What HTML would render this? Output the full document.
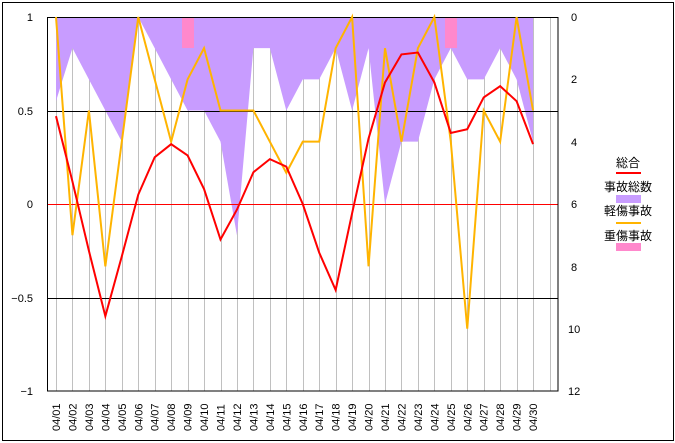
<!DOCTYPE html>
<html><head><meta charset="utf-8"><style>body{margin:0;background:#fff}svg{display:block}</style></head><body>
<svg width="675" height="443" xmlns="http://www.w3.org/2000/svg" font-family="Liberation Sans, Noto Sans CJK JP, sans-serif" font-size="11">
<rect x="2.5" y="2.5" width="671" height="438" fill="#fff" stroke="#000"/>
<g id="grid" stroke="#c0c0c0" stroke-width="1"></g>
<polygon id="area" fill="#c89cff"/>
<rect x="182" y="17" width="12" height="31" fill="#ff88cc"/>
<rect x="445" y="17" width="12" height="31" fill="#ff88cc"/>
<line x1="47" y1="111.5" x2="558" y2="111.5" stroke="#000"/>
<line x1="47" y1="298.5" x2="558" y2="298.5" stroke="#000"/>
<line x1="47" y1="204.5" x2="558" y2="204.5" stroke="#f00"/>
<rect x="47.5" y="17.5" width="510.5" height="373.5" fill="none" stroke="#000"/>
<polyline id="orange" fill="none" stroke="#ffb400" stroke-width="2"/>
<polyline id="red" fill="none" stroke="#f00" stroke-width="2"/>
<g text-anchor="end" font-size="11">
<text x="33" y="21">1</text><text x="33" y="115">0.5</text><text x="33" y="208">0</text><text x="33" y="302">−0.5</text><text x="33" y="395">−1</text>
</g>
<g font-size="11">
<text x="571" y="21">0</text><text x="571" y="83">2</text><text x="571" y="146">4</text><text x="571" y="208">6</text><text x="571" y="271">8</text><text x="568" y="333">10</text><text x="568" y="395">12</text>
</g>
<g font-size="12" text-anchor="middle">
<text x="628" y="167">総合</text><rect x="616" y="172" width="25" height="2" fill="#f00"/>
<text x="628" y="191">事故総数</text><rect x="616" y="195" width="25" height="8" fill="#c89cff"/>
<text x="628" y="215">軽傷事故</text><rect x="616" y="222" width="25" height="2" fill="#ffb400"/>
<text x="628" y="240">重傷事故</text><rect x="616" y="243" width="25" height="8" fill="#ff88cc"/>
</g>
<g id="xl" font-size="11"></g>
</svg>
<script>
var X=i=>56+16.45*i;
var g=document.getElementById('grid'),s='';
for(var i=0;i<=30;i++){var x=Math.round(X(i))+0.5;s+='<line x1="'+x+'" y1="17" x2="'+x+'" y2="391"/>';}
g.innerHTML=s;
var tot=[2.7,1,2,3,4,0,1,2,3,3,4,7,1,1,3,2,2,1,3,1,6,4,4,2,1,2,2,1,2,4];
var p=X(0)+',17 ';tot.forEach((v,i)=>p+=X(i)+','+(17+v*31.17)+' ');p+=X(29)+',17';
document.getElementById('area').setAttribute('points',p);
var lt=[0,7,3,8,4,0,2,4,2,1,3,3,3,4,5,4,4,1,0,8,1,4,1,0,4,10,3,4,0,3];
document.getElementById('orange').setAttribute('points',lt.map((v,i)=>X(i)+','+(17+v*31.17)).join(' '));
var r=[0.47,0.12,-0.25,-0.6,-0.28,0.05,0.25,0.32,0.26,0.08,-0.19,-0.03,0.17,0.24,0.2,0,-0.26,-0.46,-0.05,0.35,0.65,0.8,0.81,0.65,0.38,0.4,0.57,0.63,0.55,0.32];
document.getElementById('red').setAttribute('points',r.map((v,i)=>X(i)+','+(204-v*187)).join(' '));
var xl='';for(var i=0;i<30;i++){var d=(i+1<10?'0':'')+(i+1);var x=X(i)+4;xl+='<text transform="translate('+x+',431) rotate(-90)">04/'+d+'</text>';}
document.getElementById('xl').innerHTML=xl;
</script>
</body></html>
